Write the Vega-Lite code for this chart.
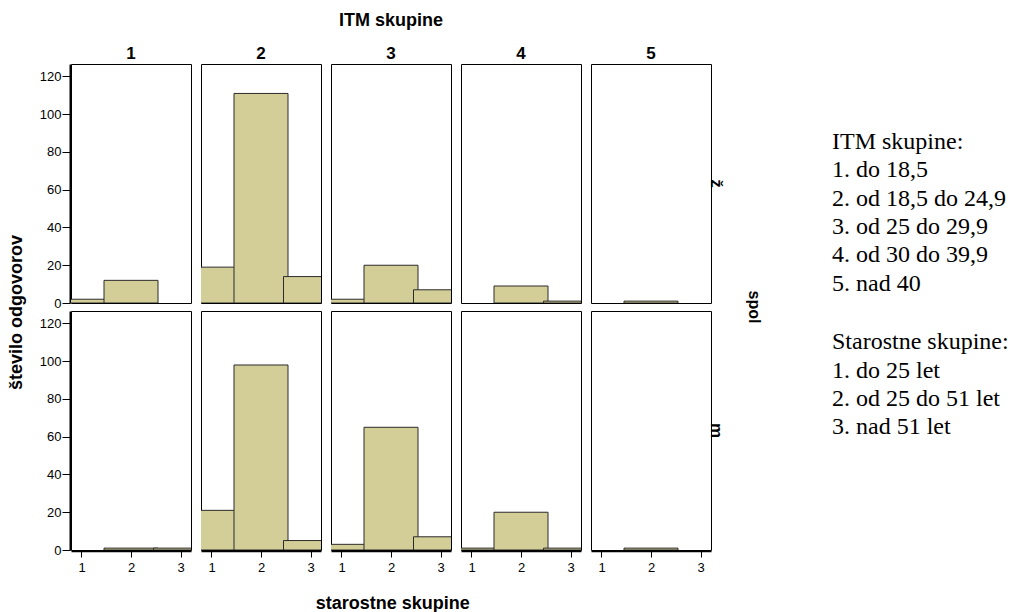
{
  "$schema": "https://vega.github.io/schema/vega-lite/v6.json",
  "background": "white",
  "padding": {"left": 8, "top": 12, "right": 0, "bottom": 0},
  "title": {
    "text": "število odgovorov",
    "orient": "left",
    "anchor": "middle",
    "font": "Liberation Sans",
    "fontSize": 18,
    "fontWeight": "bold",
    "color": "black",
    "offset": 13
  },
  "config": {
    "font": "Liberation Sans",
    "view": {"stroke": "black", "strokeWidth": 1},
    "axis": {
      "grid": false,
      "labelFont": "Liberation Sans",
      "labelFontSize": 13,
      "labelColor": "black",
      "labelFlush": false,
      "tickColor": "black",
      "domainColor": "black"
    },
    "header": {
      "labelFont": "Liberation Sans",
      "labelColor": "black",
      "titleFont": "Liberation Sans",
      "titleColor": "black"
    }
  },
  "hconcat": [
    {
      "title": {
        "text": "starostne skupine",
        "orient": "bottom",
        "anchor": "middle",
        "font": "Liberation Sans",
        "fontSize": 18,
        "fontWeight": "bold",
        "color": "black",
        "offset": 21,
        "dx": -8
      },
      "data": {
        "values": [
          {"itm": 1, "spol": "ž", "starost": 1, "n": 2},
          {"itm": 1, "spol": "ž", "starost": 2, "n": 12},
          {"itm": 2, "spol": "ž", "starost": 1, "n": 19},
          {"itm": 2, "spol": "ž", "starost": 2, "n": 111},
          {"itm": 2, "spol": "ž", "starost": 3, "n": 14},
          {"itm": 3, "spol": "ž", "starost": 1, "n": 2},
          {"itm": 3, "spol": "ž", "starost": 2, "n": 20},
          {"itm": 3, "spol": "ž", "starost": 3, "n": 7},
          {"itm": 4, "spol": "ž", "starost": 2, "n": 9},
          {"itm": 4, "spol": "ž", "starost": 3, "n": 1},
          {"itm": 5, "spol": "ž", "starost": 2, "n": 1},
          {"itm": 1, "spol": "m", "starost": 2, "n": 1},
          {"itm": 1, "spol": "m", "starost": 3, "n": 1},
          {"itm": 2, "spol": "m", "starost": 1, "n": 21},
          {"itm": 2, "spol": "m", "starost": 2, "n": 98},
          {"itm": 2, "spol": "m", "starost": 3, "n": 5},
          {"itm": 3, "spol": "m", "starost": 1, "n": 3},
          {"itm": 3, "spol": "m", "starost": 2, "n": 65},
          {"itm": 3, "spol": "m", "starost": 3, "n": 7},
          {"itm": 4, "spol": "m", "starost": 1, "n": 1},
          {"itm": 4, "spol": "m", "starost": 2, "n": 20},
          {"itm": 4, "spol": "m", "starost": 3, "n": 1},
          {"itm": 5, "spol": "m", "starost": 2, "n": 1}
        ]
      },
      "spacing": {"column": 8, "row": 6},
      "facet": {
        "column": {
          "field": "itm",
          "type": "ordinal",
          "title": "ITM skupine",
          "header": {
            "labelFontSize": 17,
            "labelFontWeight": "bold",
            "labelPadding": 0,
            "titleFontSize": 18,
            "titleFontWeight": "bold",
            "titlePadding": 5
          }
        },
        "row": {
          "field": "spol",
          "type": "nominal",
          "sort": ["ž", "m"],
          "title": "spol",
          "header": {
            "labelOrient": "right",
            "titleOrient": "right",
            "labelAngle": 90,
            "titleAngle": 90,
            "labelFontSize": 17,
            "labelFontWeight": "bold",
            "labelPadding": -5,
            "titleFontSize": 16,
            "titleFontWeight": "bold",
            "titlePadding": 11
          }
        }
      },
      "spec": {
        "width": 120,
        "height": 239,
        "mark": {
          "type": "bar",
          "size": 54,
          "clip": true,
          "fill": "#d3ce98",
          "stroke": "#2b2b2b",
          "strokeWidth": 1
        },
        "encoding": {
          "x": {
            "field": "starost",
            "type": "quantitative",
            "scale": {"domain": [0.889, 3.111], "nice": false, "zero": false},
            "axis": {
              "values": [1, 2, 3],
              "format": "d",
              "title": null,
              "tickSize": 6,
              "labelPadding": 4,
              "labelFlush": false,
              "labelAlign": "center",
              "labelBound": false,
              "domainWidth": 1.5
            }
          },
          "y": {
            "field": "n",
            "type": "quantitative",
            "scale": {"domain": [0, 126.6], "nice": false},
            "axis": {
              "values": [0, 20, 40, 60, 80, 100, 120],
              "title": null,
              "tickSize": 8,
              "labelPadding": 1,
              "labelFlush": false,
              "labelBaseline": "middle",
              "domainWidth": 2
            }
          }
        }
      }
    },
    {
      "vconcat": [
        {
          "width": 2,
          "height": 241,
          "view": {"stroke": null},
          "data": {
            "values": [
              {"vrstica": 1, "besedilo": "ITM skupine:"},
              {"vrstica": 2, "besedilo": "1. do 18,5"},
              {"vrstica": 3, "besedilo": "2. od 18,5 do 24,9"},
              {"vrstica": 4, "besedilo": "3. od 25 do 29,9"},
              {"vrstica": 5, "besedilo": "4. od 30 do 39,9"},
              {"vrstica": 6, "besedilo": "5. nad 40"}
            ]
          },
          "mark": {"type": "text", "align": "left", "baseline": "alphabetic", "font": "Liberation Serif", "fontSize": 24, "color": "black"},
          "encoding": {
            "y": {
              "field": "vrstica",
              "type": "quantitative",
              "axis": null,
              "scale": {"domain": [-2, 6.5], "nice": false, "zero": false, "reverse": true}
            },
            "text": {"field": "besedilo"}
          }
        },
        {
          "width": 2,
          "height": 113.4,
          "view": {"stroke": null},
          "data": {
            "values": [
              {"vrstica": 1, "besedilo": "Starostne skupine:"},
              {"vrstica": 2, "besedilo": "1. do 25 let"},
              {"vrstica": 3, "besedilo": "2. od 25 do 51 let"},
              {"vrstica": 4, "besedilo": "3. nad 51 let"}
            ]
          },
          "mark": {"type": "text", "align": "left", "baseline": "alphabetic", "font": "Liberation Serif", "fontSize": 24, "color": "black"},
          "encoding": {
            "y": {
              "field": "vrstica",
              "type": "ordinal",
              "axis": null,
              "scale": {"type": "band", "paddingInner": 0, "paddingOuter": 0}
            },
            "text": {"field": "besedilo"}
          }
        }
      ],
      "spacing": 25
    }
  ],
  "spacing": 69
}
